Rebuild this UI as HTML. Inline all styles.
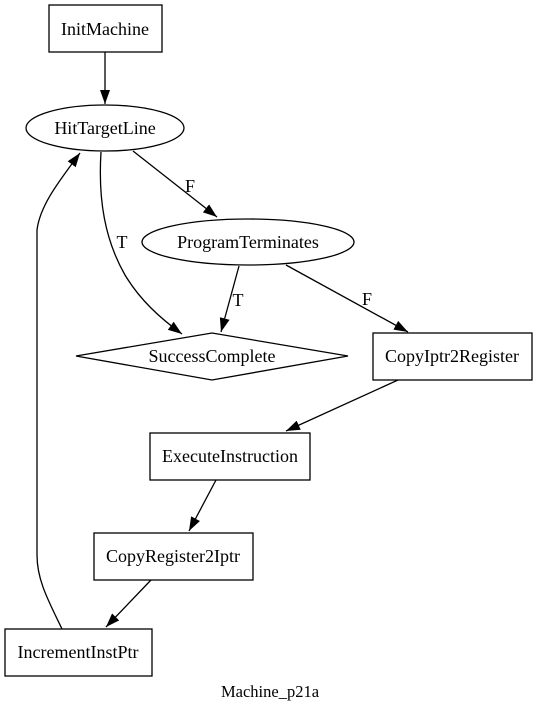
<!DOCTYPE html>
<html><head><meta charset="utf-8"><style>html,body{margin:0;padding:0;background:#fff}svg{display:block}text{font-family:"Liberation Serif",serif;font-size:18px;fill:#000}</style></head><body>
<svg width="539" height="709" viewBox="0 0 539 709" xmlns="http://www.w3.org/2000/svg">
<defs><marker id="a" markerWidth="14" markerHeight="10" refX="14" refY="5" orient="auto" markerUnits="userSpaceOnUse"><path d="M0,0 L14,5 L0,10 Z" fill="#000"/></marker></defs>
<g fill="none" stroke="#000" stroke-width="1.3">
<rect x="49" y="5" width="113" height="47"/>
<ellipse cx="105" cy="128" rx="79" ry="23"/>
<ellipse cx="248" cy="242" rx="106" ry="23"/>
<polygon points="76,356 212,333 348,356 212,380"/>
<rect x="373" y="333" width="159" height="47"/>
<rect x="150" y="433" width="160" height="47"/>
<rect x="94" y="533" width="159" height="47"/>
<rect x="5" y="629" width="147" height="47"/>
<path d="M105,52 L105,104" marker-end="url(#a)"/>
<path d="M133,151 L217,217" marker-end="url(#a)"/>
<path d="M101,152 C98,200 105,240 125,275 C140,300 160,318 182,334" marker-end="url(#a)"/>
<path d="M239,266 L221,332" marker-end="url(#a)"/>
<path d="M286,265 L408,332" marker-end="url(#a)"/>
<path d="M398,380 L286,431" marker-end="url(#a)"/>
<path d="M216,480 L189,531" marker-end="url(#a)"/>
<path d="M151,580 L106,627" marker-end="url(#a)"/>
<path d="M62,629 C48,600 37,580 37,555 L37,230 C40,205 60,180 80,153" marker-end="url(#a)"/>
</g>
<g text-anchor="middle">
<text x="105" y="35">InitMachine</text>
<text x="105" y="134">HitTargetLine</text>
<text x="248" y="248">ProgramTerminates</text>
<text x="212" y="362">SuccessComplete</text>
<text x="452" y="362">CopyIptr2Register</text>
<text x="230" y="462">ExecuteInstruction</text>
<text x="173" y="562">CopyRegister2Iptr</text>
<text x="78" y="658">IncrementInstPtr</text>
<text x="190" y="192">F</text>
<text x="122" y="248">T</text>
<text x="238" y="306">T</text>
<text x="367" y="305">F</text>
<text x="270" y="697" style="font-size:16.5px">Machine_p21a</text>
</g>
</svg>
</body></html>
